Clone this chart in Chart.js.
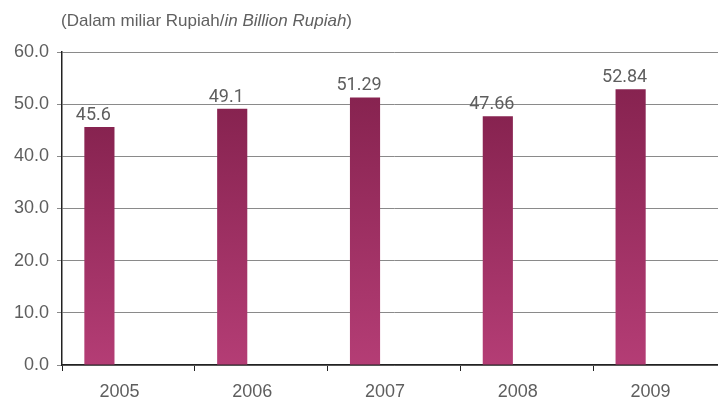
<!DOCTYPE html>
<html>
<head>
<meta charset="utf-8">
<script src="https://cdn.jsdelivr.net/npm/chart.js@4.4.0/dist/chart.umd.min.js"></script>
<style>
  html, body { margin: 0; padding: 0; background: #fff; overflow: hidden; }
  #wrap { width: 726px; height: 401px; position: relative; }
</style>
</head>
<body>
<div id="wrap"><canvas id="myChart"></canvas></div>
<script>
// chart data
const years = ['2005', '2006', '2007', '2008', '2009'];
const values = [45.6, 49.1, 51.29, 47.66, 52.84];
const valueLabels = ['45.6', '49.1', '51.29', '47.66', '52.84'];
const yTicks = [0, 10, 20, 30, 40, 50, 60];

const unitTitle = ['(Dalam miliar Rupiah/', 'in Billion Rupiah', ')'];

// per-bar vertical gradient, dark at the top
function barGradient(context) {
  const chart = context.chart;
  if (!chart.chartArea) return '#9c2f62';
  const y = chart.scales.y;
  const top = y.getPixelForValue(context.raw);
  const bottom = y.getPixelForValue(0);
  const g = chart.ctx.createLinearGradient(0, top, 0, bottom);
  g.addColorStop(0, '#872350');
  g.addColorStop(1, '#b43d75');
  return g;
}

const titlePlugin = {
  id: 'unitTitle',
  afterDraw(chart) {
    const ctx = chart.ctx;
    ctx.save();
    ctx.fillStyle = '#606060';
    ctx.textBaseline = 'alphabetic';
    let x = 61;
    const y = 26;
    const fonts = [
      '17px "Liberation Sans", Arial, sans-serif',
      'italic 17px "Liberation Sans", Arial, sans-serif',
      '17px "Liberation Sans", Arial, sans-serif'
    ];
    unitTitle.forEach((part, i) => {
      ctx.font = fonts[i];
      ctx.fillText(part, x, y);
      x += ctx.measureText(part).width;
    });
    ctx.restore();
  }
};

const valuePlugin = {
  id: 'valueLabels',
  afterDatasetsDraw(chart) {
    const ctx = chart.ctx;
    const meta = chart.getDatasetMeta(0);
    ctx.save();
    ctx.font = '18px Roboto, sans-serif';
    ctx.fillStyle = '#5e5e5e';
    ctx.textAlign = 'center';
    ctx.textBaseline = 'alphabetic';
    meta.data.forEach((bar, i) => {
      ctx.fillText(valueLabels[i], bar.x - 6, bar.y - 7);
    });
    ctx.restore();
  }
};

const ctx = document.getElementById('myChart').getContext('2d');
new Chart(ctx, {
  type: 'bar',
  data: {
    labels: years,
    datasets: [
      {
        data: values,
        backgroundColor: barGradient,
        borderWidth: 0,
        barPercentage: 0.52,
        categoryPercentage: 0.873
      },
      {
        // empty slot so the bar sits on the left of each category
        data: years.map(() => null),
        backgroundColor: 'rgba(0,0,0,0)',
        barPercentage: 0.52,
        categoryPercentage: 0.873
      }
    ]
  },
  options: {
    responsive: true,
    maintainAspectRatio: false,
    animation: false,
    layout: { padding: { top: 52, right: 0, bottom: 0, left: 0 } },
    plugins: {
      legend: { display: false },
      tooltip: { enabled: false }
    },
    scales: {
      x: {
        offset: true,
        afterFit(scale) { scale.height = 36; },
        grid: {
          offset: true,
          drawOnChartArea: false,
          color: '#222',
          tickLength: 6
        },
        border: { color: '#222', width: 1.5 },
        ticks: {
          color: '#5e5e5e',
          font: { family: '"Liberation Sans", Arial, sans-serif', size: 18 },
          labelOffset: -9,
          padding: 10
        }
      },
      y: {
        min: 0,
        max: 60,
        afterFit(scale) { scale.width = 62; },
        afterBuildTicks(scale) { scale.ticks = yTicks.map(v => ({ value: v })); },
        grid: {
          color: '#8a8a8a',
          tickLength: 5
        },
        border: { color: '#222', width: 1.5 },
        ticks: {
          color: '#5e5e5e',
          font: { family: '"Liberation Sans", Arial, sans-serif', size: 18 },
          padding: 8,
          callback: v => v.toFixed(1)
        }
      }
    }
  },
  plugins: [titlePlugin, valuePlugin]
});
</script>
</body>
</html>
